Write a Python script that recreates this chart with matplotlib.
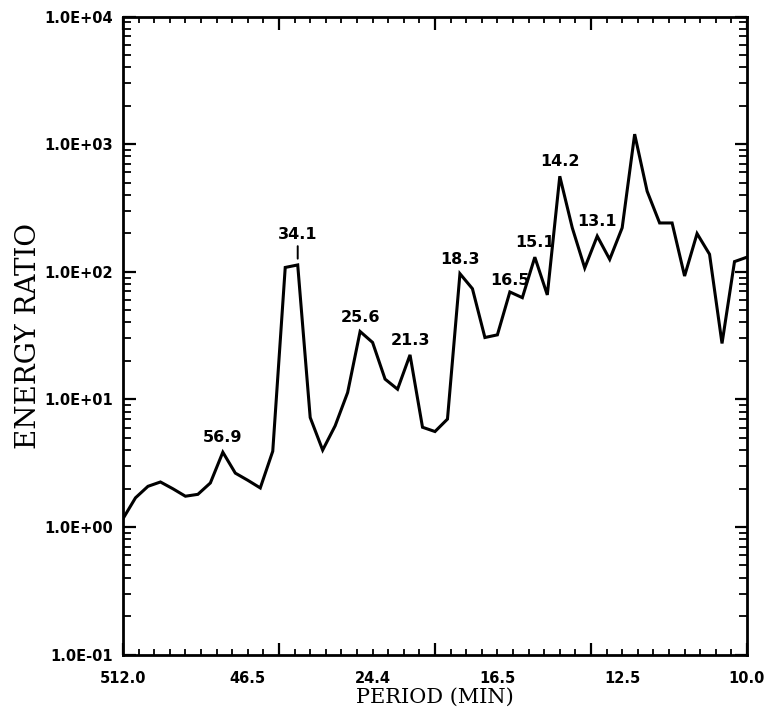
import numpy as np
import matplotlib
matplotlib.use("Agg")
import matplotlib.pyplot as plt
from matplotlib.ticker import FixedLocator, LogLocator, FuncFormatter, NullFormatter

# ---- data ----
harmonic = list(range(1, 52))          # spectral index k, period = 512/k minutes
energy_ratio = [1.16, 1.69, 2.08, 2.25, 1.99, 1.74, 1.80, 2.21, 3.85, 2.64,
                2.32, 2.02, 3.92, 108, 113, 7.2, 4.0, 6.2, 11.3, 34.0,
                27.9, 14.4, 12.0, 22.3, 6.04, 5.59, 7.0, 96.5, 73.6, 30.5,
                32.0, 69.4, 62.6, 130, 65.8, 560, 221, 107, 190, 125,
                221, 1197, 427, 241, 241, 92.5, 199, 137, 27.4, 120, 130]
peak_k = [9, 15, 20, 24, 28, 32, 34, 36, 39]
peak_labels = ["56.9", "34.1", "25.6", "21.3", "18.3", "16.5", "15.1", "14.2", "13.1"]
xtick_k = [1, 11, 21, 31, 41, 51]
xtick_labels = ["512.0", "46.5", "24.4", "16.5", "12.5", "10.0"]

fig = plt.figure(figsize=(7.76, 7.15), dpi=100)
ax = fig.add_axes([0.1585, 0.0846, 0.8041, 0.8923])

ax.plot(harmonic, energy_ratio, color="black", lw=2.2, solid_joinstyle="miter")
ax.set_yscale("log")
ax.set_ylim(0.1, 1e4)
ax.set_xlim(1, 51)

for s in ax.spines.values():
    s.set_linewidth(2.0)

# y ticks
ax.yaxis.set_major_locator(LogLocator(base=10, numticks=10))
ax.yaxis.set_minor_locator(LogLocator(base=10, subs=np.arange(2, 10), numticks=20))
ax.yaxis.set_major_formatter(FuncFormatter(lambda v, p: f"{v:.1E}"))
ax.yaxis.set_minor_formatter(NullFormatter())
ax.tick_params(axis="y", which="major", direction="in", length=9, width=1.6,
               left=True, right=True, labelsize=10.5, pad=7)
ax.tick_params(axis="y", which="minor", direction="in", length=6, width=1.3,
               left=True, right=True)
for lab in ax.get_yticklabels():
    lab.set_fontweight("bold")

# x ticks: long every quarter, short every 1/40 of axis
lo, hi = 1, 51
ax.xaxis.set_major_locator(FixedLocator(np.linspace(lo, hi, 5)))
ax.xaxis.set_minor_locator(FixedLocator(np.linspace(lo, hi, 41)))
ax.xaxis.set_major_formatter(NullFormatter())
ax.tick_params(axis="x", which="major", direction="in", length=9, width=1.6,
               top=True, bottom=True)
ax.tick_params(axis="x", which="minor", direction="in", length=4.5, width=1.3,
               top=True, bottom=True)

sec = ax.secondary_xaxis("bottom")
sec.set_xticks(xtick_k)
sec.set_xticklabels(xtick_labels, fontweight="bold", fontsize=10.5)
sec.tick_params(axis="x", length=0, pad=12)
sec.spines["bottom"].set_visible(False)
sec.set_xlabel("PERIOD (MIN)", family="DejaVu Serif", fontsize=15, labelpad=1)

ax.set_ylabel("ENERGY RATIO", family="DejaVu Serif", fontsize=20, labelpad=2)

# peak annotations
for k, lab in zip(peak_k, peak_labels):
    v = energy_ratio[k - 1]
    if lab == "34.1":
        ax.annotate(lab, xy=(k, v * 1.12), xytext=(0, 12), textcoords="offset points",
                    ha="center", va="bottom", fontsize=11.5, fontweight="bold",
                    arrowprops=dict(arrowstyle="-", lw=1.4, color="black",
                                    shrinkA=1, shrinkB=0))
    else:
        dy = 3 if lab == "16.5" else 5
        ax.annotate(lab, xy=(k, v), xytext=(0, dy), textcoords="offset points",
                    ha="center", va="bottom", fontsize=11.5, fontweight="bold")

fig.savefig("out.png", dpi=100, facecolor="white")
